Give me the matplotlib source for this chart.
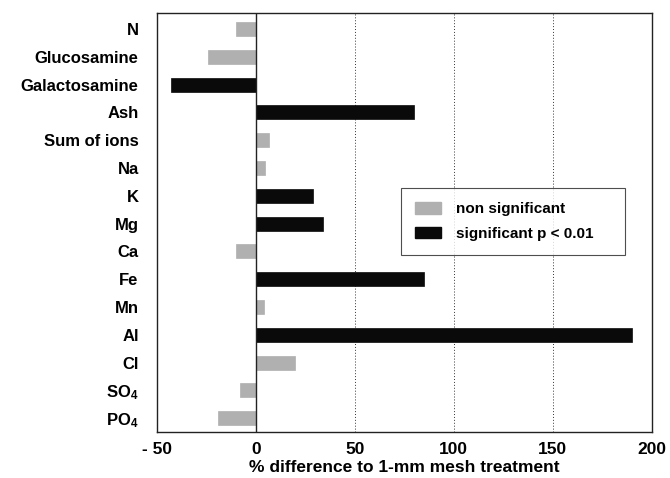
import numpy as np
import matplotlib.pyplot as plt
from matplotlib.patches import Patch

plt.rcParams['font.family'] = ['Liberation Sans', 'DejaVu Sans']
plt.rcParams['font.weight'] = 'bold'
plt.rcParams['mathtext.default'] = 'regular'

labels = ['N', 'Glucosamine', 'Galactosamine', 'Ash', 'Sum of ions', 'Na', 'K', 'Mg',
          'Ca', 'Fe', 'Mn', 'Al', 'Cl', r'SO$_4$', r'PO$_4$']
values = [-10, -24, -43, 80, 6.5, 4.5, 29, 34, -10, 85, 4, 190, 20, -8, -19]
significant = [0, 0, 1, 1, 0, 0, 1, 1, 0, 1, 0, 1, 0, 0, 0]

grey = '#b0b0b0'
black = '#0a0a0a'

fig = plt.figure(figsize=(6.7, 4.78), dpi=100)
ax = fig.add_axes([0.234, 0.096, 0.739, 0.877])

y = np.arange(len(labels))
colors = [black if s else grey for s in significant]
ax.barh(y, values, height=0.5, color=colors, edgecolor=colors, linewidth=0.5, zorder=3)

for xv in [50, 100, 150]:
    ax.axvline(xv, color='#333333', linestyle=(0, (1, 2)), linewidth=0.7, zorder=1)
ax.axvline(0, color='#222222', linewidth=1.0, zorder=4)

ax.set_xlim(-50, 200)
ax.set_ylim(14.5, -0.58)
ax.set_xticks([-50, 0, 50, 100, 150, 200])
ax.set_xticklabels(['- 50', '0', '50', '100', '150', '200'])
ax.set_yticks(y)
ax.set_yticklabels(labels)
ax.tick_params(axis='x', length=0, labelsize=12.5, pad=7)
ax.tick_params(axis='y', length=0, labelsize=12, pad=13)
for s in ax.spines.values():
    s.set_linewidth(1.0)
    s.set_color('#222222')

ax.set_xlabel('% difference to 1-mm mesh treatment', fontsize=12.5, fontweight='bold', labelpad=2)

handles = [Patch(facecolor=grey, edgecolor=grey, label='non significant'),
           Patch(facecolor=black, edgecolor=black, label='significant p < 0.01')]
leg = ax.legend(handles=handles, loc='upper left', bbox_to_anchor=(0.493, 0.42, 0.452, 0.162),
                mode='expand', borderaxespad=0, fontsize=11, frameon=True, fancybox=False,
                borderpad=0.9, handlelength=1.7, handleheight=0.8, handletextpad=1.0,
                labelspacing=0.7)
leg.get_frame().set_edgecolor('#222222')
leg.get_frame().set_linewidth(0.8)
leg.set_zorder(5)

fig.savefig('out.png', dpi=100)
